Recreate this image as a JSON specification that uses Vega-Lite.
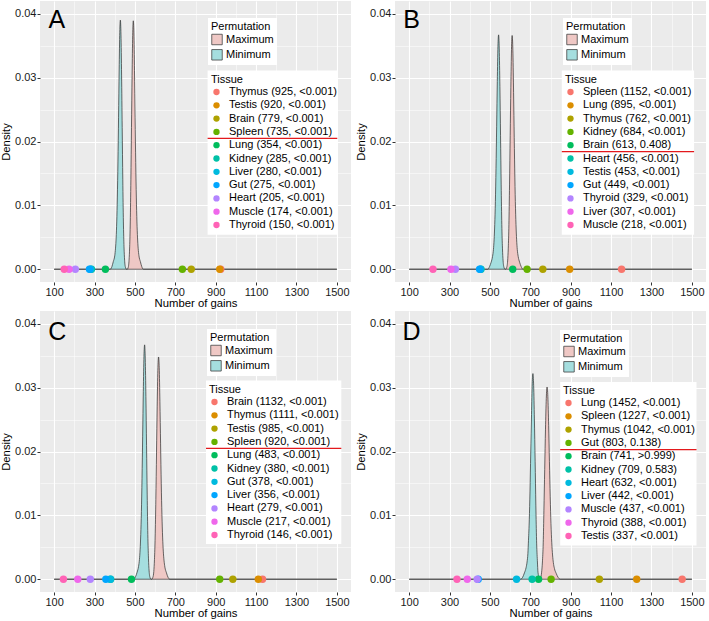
{
"$schema": "https://vega.github.io/schema/vega-lite/v6.json",
"padding": {"left": 0, "top": 1, "right": 0, "bottom": 0},
"background": "white",
"datasets": {
"dens": [
{"p":"A","m":"Minimum","x":100,"y":0},{"p":"A","m":"Minimum","x":378,"y":0},{"p":"A","m":"Minimum","x":386,"y":0.0004},{"p":"A","m":"Minimum","x":393,"y":0.0012},{"p":"A","m":"Minimum","x":400,"y":0.0021},{"p":"A","m":"Minimum","x":404,"y":0.0033},{"p":"A","m":"Minimum","x":407,"y":0.0049},{"p":"A","m":"Minimum","x":410,"y":0.0074},{"p":"A","m":"Minimum","x":413,"y":0.0113},{"p":"A","m":"Minimum","x":416,"y":0.0168},{"p":"A","m":"Minimum","x":419,"y":0.0238},{"p":"A","m":"Minimum","x":422,"y":0.0312},{"p":"A","m":"Minimum","x":425,"y":0.0371},{"p":"A","m":"Minimum","x":428,"y":0.039},{"p":"A","m":"Minimum","x":431,"y":0.0367},{"p":"A","m":"Minimum","x":434,"y":0.0304},{"p":"A","m":"Minimum","x":437,"y":0.0222},{"p":"A","m":"Minimum","x":440,"y":0.014},{"p":"A","m":"Minimum","x":443,"y":0.0074},{"p":"A","m":"Minimum","x":446,"y":0.0035},{"p":"A","m":"Minimum","x":449,"y":0.0014},{"p":"A","m":"Minimum","x":453,"y":0.0003},{"p":"A","m":"Minimum","x":458,"y":0},{"p":"A","m":"Minimum","x":1500,"y":0},
{"p":"A","m":"Maximum","x":100,"y":0},{"p":"A","m":"Maximum","x":462,"y":0},{"p":"A","m":"Maximum","x":467,"y":0.0003},{"p":"A","m":"Maximum","x":471,"y":0.0014},{"p":"A","m":"Maximum","x":474,"y":0.0035},{"p":"A","m":"Maximum","x":477,"y":0.0074},{"p":"A","m":"Maximum","x":480,"y":0.014},{"p":"A","m":"Maximum","x":483,"y":0.0222},{"p":"A","m":"Maximum","x":486,"y":0.0303},{"p":"A","m":"Maximum","x":489,"y":0.0366},{"p":"A","m":"Maximum","x":492,"y":0.0389},{"p":"A","m":"Maximum","x":495,"y":0.037},{"p":"A","m":"Maximum","x":498,"y":0.0311},{"p":"A","m":"Maximum","x":501,"y":0.0237},{"p":"A","m":"Maximum","x":504,"y":0.0167},{"p":"A","m":"Maximum","x":507,"y":0.0113},{"p":"A","m":"Maximum","x":510,"y":0.0074},{"p":"A","m":"Maximum","x":513,"y":0.0049},{"p":"A","m":"Maximum","x":516,"y":0.0033},{"p":"A","m":"Maximum","x":520,"y":0.0021},{"p":"A","m":"Maximum","x":527,"y":0.0012},{"p":"A","m":"Maximum","x":534,"y":0.0004},{"p":"A","m":"Maximum","x":542,"y":0},{"p":"A","m":"Maximum","x":1500,"y":0},
{"p":"B","m":"Minimum","x":100,"y":0},{"p":"B","m":"Minimum","x":490,"y":0},{"p":"B","m":"Minimum","x":498,"y":0.0004},{"p":"B","m":"Minimum","x":506,"y":0.0011},{"p":"B","m":"Minimum","x":513,"y":0.002},{"p":"B","m":"Minimum","x":517.5,"y":0.0031},{"p":"B","m":"Minimum","x":520.7,"y":0.0046},{"p":"B","m":"Minimum","x":523.9,"y":0.007},{"p":"B","m":"Minimum","x":527.1,"y":0.0106},{"p":"B","m":"Minimum","x":530.2,"y":0.0158},{"p":"B","m":"Minimum","x":533.4,"y":0.0224},{"p":"B","m":"Minimum","x":536.6,"y":0.0294},{"p":"B","m":"Minimum","x":539.8,"y":0.0349},{"p":"B","m":"Minimum","x":543,"y":0.0367},{"p":"B","m":"Minimum","x":546.2,"y":0.0345},{"p":"B","m":"Minimum","x":549.4,"y":0.0286},{"p":"B","m":"Minimum","x":552.6,"y":0.0209},{"p":"B","m":"Minimum","x":555.8,"y":0.0132},{"p":"B","m":"Minimum","x":558.9,"y":0.007},{"p":"B","m":"Minimum","x":562.1,"y":0.0033},{"p":"B","m":"Minimum","x":565.3,"y":0.0013},{"p":"B","m":"Minimum","x":569.6,"y":0.0003},{"p":"B","m":"Minimum","x":575,"y":0},{"p":"B","m":"Minimum","x":1500,"y":0},
{"p":"B","m":"Maximum","x":100,"y":0},{"p":"B","m":"Maximum","x":578,"y":0},{"p":"B","m":"Maximum","x":583.4,"y":0.0003},{"p":"B","m":"Maximum","x":587.7,"y":0.0013},{"p":"B","m":"Maximum","x":590.9,"y":0.0033},{"p":"B","m":"Maximum","x":594.1,"y":0.007},{"p":"B","m":"Maximum","x":597.2,"y":0.0132},{"p":"B","m":"Maximum","x":600.4,"y":0.0209},{"p":"B","m":"Maximum","x":603.6,"y":0.0285},{"p":"B","m":"Maximum","x":606.8,"y":0.0344},{"p":"B","m":"Maximum","x":610,"y":0.0366},{"p":"B","m":"Maximum","x":613.2,"y":0.0348},{"p":"B","m":"Maximum","x":616.4,"y":0.0293},{"p":"B","m":"Maximum","x":619.6,"y":0.0223},{"p":"B","m":"Maximum","x":622.8,"y":0.0157},{"p":"B","m":"Maximum","x":625.9,"y":0.0106},{"p":"B","m":"Maximum","x":629.1,"y":0.007},{"p":"B","m":"Maximum","x":632.3,"y":0.0046},{"p":"B","m":"Maximum","x":635.5,"y":0.0031},{"p":"B","m":"Maximum","x":640,"y":0.002},{"p":"B","m":"Maximum","x":647,"y":0.0011},{"p":"B","m":"Maximum","x":655,"y":0.0004},{"p":"B","m":"Maximum","x":663,"y":0},{"p":"B","m":"Maximum","x":1500,"y":0},
{"p":"C","m":"Minimum","x":100,"y":0},{"p":"C","m":"Minimum","x":495,"y":0},{"p":"C","m":"Minimum","x":503,"y":0.0004},{"p":"C","m":"Minimum","x":511,"y":0.0011},{"p":"C","m":"Minimum","x":518,"y":0.002},{"p":"C","m":"Minimum","x":522.5,"y":0.0031},{"p":"C","m":"Minimum","x":525.7,"y":0.0046},{"p":"C","m":"Minimum","x":528.9,"y":0.007},{"p":"C","m":"Minimum","x":532.1,"y":0.0106},{"p":"C","m":"Minimum","x":535.2,"y":0.0158},{"p":"C","m":"Minimum","x":538.4,"y":0.0224},{"p":"C","m":"Minimum","x":541.6,"y":0.0294},{"p":"C","m":"Minimum","x":544.8,"y":0.0349},{"p":"C","m":"Minimum","x":548,"y":0.0367},{"p":"C","m":"Minimum","x":551.2,"y":0.0345},{"p":"C","m":"Minimum","x":554.4,"y":0.0286},{"p":"C","m":"Minimum","x":557.6,"y":0.0209},{"p":"C","m":"Minimum","x":560.8,"y":0.0132},{"p":"C","m":"Minimum","x":563.9,"y":0.007},{"p":"C","m":"Minimum","x":567.1,"y":0.0033},{"p":"C","m":"Minimum","x":570.3,"y":0.0013},{"p":"C","m":"Minimum","x":574.6,"y":0.0003},{"p":"C","m":"Minimum","x":580,"y":0},{"p":"C","m":"Minimum","x":1500,"y":0},
{"p":"C","m":"Maximum","x":100,"y":0},{"p":"C","m":"Maximum","x":583.4,"y":0},{"p":"C","m":"Maximum","x":589,"y":0.0003},{"p":"C","m":"Maximum","x":593.5,"y":0.0012},{"p":"C","m":"Maximum","x":596.8,"y":0.0031},{"p":"C","m":"Maximum","x":600.2,"y":0.0066},{"p":"C","m":"Maximum","x":603.6,"y":0.0125},{"p":"C","m":"Maximum","x":606.9,"y":0.0198},{"p":"C","m":"Maximum","x":610.3,"y":0.0271},{"p":"C","m":"Maximum","x":613.6,"y":0.0327},{"p":"C","m":"Maximum","x":617,"y":0.0348},{"p":"C","m":"Maximum","x":620.4,"y":0.0331},{"p":"C","m":"Maximum","x":623.7,"y":0.0278},{"p":"C","m":"Maximum","x":627.1,"y":0.0212},{"p":"C","m":"Maximum","x":630.4,"y":0.015},{"p":"C","m":"Maximum","x":633.8,"y":0.0101},{"p":"C","m":"Maximum","x":637.2,"y":0.0066},{"p":"C","m":"Maximum","x":640.5,"y":0.0044},{"p":"C","m":"Maximum","x":643.9,"y":0.003},{"p":"C","m":"Maximum","x":648.4,"y":0.0019},{"p":"C","m":"Maximum","x":656.2,"y":0.001},{"p":"C","m":"Maximum","x":664,"y":0.0003},{"p":"C","m":"Maximum","x":673,"y":0},{"p":"C","m":"Maximum","x":1500,"y":0},
{"p":"D","m":"Minimum","x":100,"y":0},{"p":"D","m":"Minimum","x":652,"y":0},{"p":"D","m":"Minimum","x":662,"y":0.0003},{"p":"D","m":"Minimum","x":671,"y":0.001},{"p":"D","m":"Minimum","x":679,"y":0.0018},{"p":"D","m":"Minimum","x":684,"y":0.0027},{"p":"D","m":"Minimum","x":688,"y":0.004},{"p":"D","m":"Minimum","x":691,"y":0.0061},{"p":"D","m":"Minimum","x":695,"y":0.0093},{"p":"D","m":"Minimum","x":698.5,"y":0.0138},{"p":"D","m":"Minimum","x":702,"y":0.0196},{"p":"D","m":"Minimum","x":706,"y":0.0258},{"p":"D","m":"Minimum","x":709.4,"y":0.0306},{"p":"D","m":"Minimum","x":713,"y":0.0322},{"p":"D","m":"Minimum","x":716.6,"y":0.0303},{"p":"D","m":"Minimum","x":720.3,"y":0.0251},{"p":"D","m":"Minimum","x":724,"y":0.0184},{"p":"D","m":"Minimum","x":727.5,"y":0.0116},{"p":"D","m":"Minimum","x":731,"y":0.0061},{"p":"D","m":"Minimum","x":735,"y":0.0029},{"p":"D","m":"Minimum","x":738,"y":0.0011},{"p":"D","m":"Minimum","x":743,"y":0.0003},{"p":"D","m":"Minimum","x":749,"y":0},{"p":"D","m":"Minimum","x":1500,"y":0},
{"p":"D","m":"Maximum","x":100,"y":0},{"p":"D","m":"Maximum","x":745,"y":0},{"p":"D","m":"Maximum","x":751,"y":0.0002},{"p":"D","m":"Maximum","x":756,"y":0.0011},{"p":"D","m":"Maximum","x":760,"y":0.0027},{"p":"D","m":"Maximum","x":764,"y":0.0057},{"p":"D","m":"Maximum","x":767.4,"y":0.0108},{"p":"D","m":"Maximum","x":771.3,"y":0.0172},{"p":"D","m":"Maximum","x":775.2,"y":0.0235},{"p":"D","m":"Maximum","x":779.1,"y":0.0283},{"p":"D","m":"Maximum","x":783,"y":0.0301},{"p":"D","m":"Maximum","x":786.9,"y":0.0286},{"p":"D","m":"Maximum","x":790.8,"y":0.0241},{"p":"D","m":"Maximum","x":794.7,"y":0.0184},{"p":"D","m":"Maximum","x":798.6,"y":0.0129},{"p":"D","m":"Maximum","x":802.4,"y":0.0087},{"p":"D","m":"Maximum","x":806.3,"y":0.0057},{"p":"D","m":"Maximum","x":810.2,"y":0.0038},{"p":"D","m":"Maximum","x":814.1,"y":0.0026},{"p":"D","m":"Maximum","x":819.3,"y":0.0017},{"p":"D","m":"Maximum","x":828.4,"y":0.0009},{"p":"D","m":"Maximum","x":837.4,"y":0.0003},{"p":"D","m":"Maximum","x":848,"y":0},{"p":"D","m":"Maximum","x":1500,"y":0}
],
"tis": [
{"p":"A","t":"Thymus (925, <0.001)","g":925},{"p":"A","t":"Testis (920, <0.001)","g":920},{"p":"A","t":"Brain (779, <0.001)","g":779},{"p":"A","t":"Spleen (735, <0.001)","g":735},{"p":"A","t":"Lung (354, <0.001)","g":354},{"p":"A","t":"Kidney (285, <0.001)","g":285},{"p":"A","t":"Liver (280, <0.001)","g":280},{"p":"A","t":"Gut (275, <0.001)","g":275},{"p":"A","t":"Heart (205, <0.001)","g":205},{"p":"A","t":"Muscle (174, <0.001)","g":174},{"p":"A","t":"Thyroid (150, <0.001)","g":150},
{"p":"B","t":"Spleen (1152, <0.001)","g":1152},{"p":"B","t":"Lung (895, <0.001)","g":895},{"p":"B","t":"Thymus (762, <0.001)","g":762},{"p":"B","t":"Kidney (684, <0.001)","g":684},{"p":"B","t":"Brain (613, 0.408)","g":613},{"p":"B","t":"Heart (456, <0.001)","g":456},{"p":"B","t":"Testis (453, <0.001)","g":453},{"p":"B","t":"Gut (449, <0.001)","g":449},{"p":"B","t":"Thyroid (329, <0.001)","g":329},{"p":"B","t":"Liver (307, <0.001)","g":307},{"p":"B","t":"Muscle (218, <0.001)","g":218},
{"p":"C","t":"Brain (1132, <0.001)","g":1132},{"p":"C","t":"Thymus (1111, <0.001)","g":1111},{"p":"C","t":"Testis (985, <0.001)","g":985},{"p":"C","t":"Spleen (920, <0.001)","g":920},{"p":"C","t":"Lung (483, <0.001)","g":483},{"p":"C","t":"Kidney (380, <0.001)","g":380},{"p":"C","t":"Gut (378, <0.001)","g":378},{"p":"C","t":"Liver (356, <0.001)","g":356},{"p":"C","t":"Heart (279, <0.001)","g":279},{"p":"C","t":"Muscle (217, <0.001)","g":217},{"p":"C","t":"Thyroid (146, <0.001)","g":146},
{"p":"D","t":"Lung (1452, <0.001)","g":1452},{"p":"D","t":"Spleen (1227, <0.001)","g":1227},{"p":"D","t":"Thymus (1042, <0.001)","g":1042},{"p":"D","t":"Gut (803, 0.138)","g":803},{"p":"D","t":"Brain (741, >0.999)","g":741},{"p":"D","t":"Kidney (709, 0.583)","g":709},{"p":"D","t":"Heart (632, <0.001)","g":632},{"p":"D","t":"Liver (442, <0.001)","g":442},{"p":"D","t":"Muscle (437, <0.001)","g":437},{"p":"D","t":"Thyroid (388, <0.001)","g":388},{"p":"D","t":"Testis (337, <0.001)","g":337}
],
"lab": [{"p":"A"},{"p":"B"},{"p":"C"},{"p":"D"}]
},
"concat": [
{
"width": 311, "height": 281,
"layer": [
{"data": {"name": "dens"}, "transform": [{"filter": "datum.p === 'A'"}],
 "mark": {"type": "area", "interpolate": "monotone"},
 "encoding": {
  "x": {"field": "x", "type": "quantitative", "scale": {"domain": [30, 1570], "nice": false, "zero": false}, "axis": {"values": [100,300,500,700,900,1100,1300,1500], "format": "d", "title": "Number of gains"}},
  "y": {"field": "y", "type": "quantitative", "scale": {"domain": [-0.002, 0.042], "nice": false, "zero": false}, "axis": {"values": [0,0.01,0.02,0.03,0.04], "format": ".2f", "title": "Density"}},
  "fill": {"field": "m", "type": "nominal", "scale": {"domain": ["Maximum","Minimum"], "range": ["#EFC8C5","#A5DEDF"]}, "legend": {"title": "Permutation", "orient": "none", "legendX": 168, "legendY": 17, "symbolType": "square", "symbolSize": 110, "symbolStrokeColor": "#444", "symbolStrokeWidth": 0.8, "labelOffset": 3, "fillColor": "white"}}
 }},
{"data": {"name": "dens"}, "transform": [{"filter": "datum.p === 'A'"}],
 "mark": {"type": "line", "interpolate": "monotone", "color": "#2b2b2b", "strokeWidth": 0.7},
 "encoding": {
  "x": {"field": "x", "type": "quantitative", "axis": {"values": [200,400,600,800,1000,1200,1400], "grid": true, "gridWidth": 0.5, "labels": false, "ticks": false, "domain": false, "title": null}},
  "y": {"field": "y", "type": "quantitative", "axis": {"values": [0.005,0.015,0.025,0.035], "grid": true, "gridWidth": 0.5, "labels": false, "ticks": false, "domain": false, "title": null}},
  "detail": {"field": "m"}
 }},
{"data": {"name": "tis"}, "transform": [{"filter": "datum.p === 'A'"}],
 "mark": {"type": "circle", "size": 55, "opacity": 1},
 "encoding": {
  "x": {"field": "g", "type": "quantitative", "axis": null},
  "y": {"datum": 0, "type": "quantitative", "axis": null},
  "color": {"field": "t", "type": "nominal", "scale": {"domain": ["Thymus (925, <0.001)","Testis (920, <0.001)","Brain (779, <0.001)","Spleen (735, <0.001)","Lung (354, <0.001)","Kidney (285, <0.001)","Liver (280, <0.001)","Gut (275, <0.001)","Heart (205, <0.001)","Muscle (174, <0.001)","Thyroid (150, <0.001)"], "range": ["#F8766D","#DB8E00","#AEA200","#64B200","#00BD5C","#00C1A7","#00BADE","#00A6FF","#B385FF","#EF67EB","#FF63B6"]},
   "legend": {"title": "Tissue", "orient": "none", "legendX": 168, "legendY": 70, "symbolType": "circle", "symbolSize": 40, "labelOffset": 7}}
 }},
{"data": {"name": "lab"}, "transform": [{"filter": "datum.p === 'A'"}],
 "mark": {"type": "text", "fontSize": 25, "align": "center", "baseline": "alphabetic", "color": "black"},
 "encoding": {
  "x": {"datum": 114, "type": "quantitative", "axis": null},
  "y": {"datum": 0.0378, "type": "quantitative", "axis": null},
  "text": {"field": "p"}
 }},
{"data": {"name": "lab"}, "transform": [{"filter": "datum.p === 'A'"}],
 "mark": {"type": "rect", "color": "white"},
 "encoding": {
  "x": {"datum": 860, "type": "quantitative", "axis": null}, "x2": {"datum": 1502},
  "y": {"datum": 0.0311, "type": "quantitative", "axis": null}, "y2": {"datum": 0.0054}
 }},
{"data": {"name": "lab"}, "transform": [{"filter": "datum.p === 'A'"}],
 "mark": {"type": "rule", "color": "#E3191C", "strokeWidth": 1.3},
 "encoding": {
  "x": {"datum": 860, "type": "quantitative", "axis": null}, "x2": {"datum": 1502},
  "y": {"datum": 0.0205, "type": "quantitative", "axis": null}
 }}
],
"resolve": {"axis": {"x": "independent", "y": "independent"}}
},
{
"width": 311, "height": 281,
"layer": [
{"data": {"name": "dens"}, "transform": [{"filter": "datum.p === 'B'"}],
 "mark": {"type": "area", "interpolate": "monotone"},
 "encoding": {
  "x": {"field": "x", "type": "quantitative", "scale": {"domain": [30, 1570], "nice": false, "zero": false}, "axis": {"values": [100,300,500,700,900,1100,1300,1500], "format": "d", "title": "Number of gains"}},
  "y": {"field": "y", "type": "quantitative", "scale": {"domain": [-0.002, 0.042], "nice": false, "zero": false}, "axis": {"values": [0,0.01,0.02,0.03,0.04], "format": ".2f", "title": "Density"}},
  "fill": {"field": "m", "type": "nominal", "scale": {"domain": ["Maximum","Minimum"], "range": ["#EFC8C5","#A5DEDF"]}, "legend": {"title": "Permutation", "orient": "none", "legendX": 168, "legendY": 17, "symbolType": "square", "symbolSize": 110, "symbolStrokeColor": "#444", "symbolStrokeWidth": 0.8, "labelOffset": 3, "fillColor": "white"}}
 }},
{"data": {"name": "dens"}, "transform": [{"filter": "datum.p === 'B'"}],
 "mark": {"type": "line", "interpolate": "monotone", "color": "#2b2b2b", "strokeWidth": 0.7},
 "encoding": {
  "x": {"field": "x", "type": "quantitative", "axis": {"values": [200,400,600,800,1000,1200,1400], "grid": true, "gridWidth": 0.5, "labels": false, "ticks": false, "domain": false, "title": null}},
  "y": {"field": "y", "type": "quantitative", "axis": {"values": [0.005,0.015,0.025,0.035], "grid": true, "gridWidth": 0.5, "labels": false, "ticks": false, "domain": false, "title": null}},
  "detail": {"field": "m"}
 }},
{"data": {"name": "tis"}, "transform": [{"filter": "datum.p === 'B'"}],
 "mark": {"type": "circle", "size": 55, "opacity": 1},
 "encoding": {
  "x": {"field": "g", "type": "quantitative", "axis": null},
  "y": {"datum": 0, "type": "quantitative", "axis": null},
  "color": {"field": "t", "type": "nominal", "scale": {"domain": ["Spleen (1152, <0.001)","Lung (895, <0.001)","Thymus (762, <0.001)","Kidney (684, <0.001)","Brain (613, 0.408)","Heart (456, <0.001)","Testis (453, <0.001)","Gut (449, <0.001)","Thyroid (329, <0.001)","Liver (307, <0.001)","Muscle (218, <0.001)"], "range": ["#F8766D","#DB8E00","#AEA200","#64B200","#00BD5C","#00C1A7","#00BADE","#00A6FF","#B385FF","#EF67EB","#FF63B6"]},
   "legend": {"title": "Tissue", "orient": "none", "legendX": 167, "legendY": 70, "symbolType": "circle", "symbolSize": 40, "labelOffset": 7}}
 }},
{"data": {"name": "lab"}, "transform": [{"filter": "datum.p === 'B'"}],
 "mark": {"type": "text", "fontSize": 25, "align": "center", "baseline": "alphabetic", "color": "black"},
 "encoding": {
  "x": {"datum": 112, "type": "quantitative", "axis": null},
  "y": {"datum": 0.0378, "type": "quantitative", "axis": null},
  "text": {"field": "p"}
 }},
{"data": {"name": "lab"}, "transform": [{"filter": "datum.p === 'B'"}],
 "mark": {"type": "rect", "color": "white"},
 "encoding": {
  "x": {"datum": 856, "type": "quantitative", "axis": null}, "x2": {"datum": 1511},
  "y": {"datum": 0.0311, "type": "quantitative", "axis": null}, "y2": {"datum": 0.0054}
 }},
{"data": {"name": "lab"}, "transform": [{"filter": "datum.p === 'B'"}],
 "mark": {"type": "rule", "color": "#E3191C", "strokeWidth": 1.3},
 "encoding": {
  "x": {"datum": 856, "type": "quantitative", "axis": null}, "x2": {"datum": 1511},
  "y": {"datum": 0.0184, "type": "quantitative", "axis": null}
 }}
],
"resolve": {"axis": {"x": "independent", "y": "independent"}}
},
{
"width": 311, "height": 281,
"layer": [
{"data": {"name": "dens"}, "transform": [{"filter": "datum.p === 'C'"}],
 "mark": {"type": "area", "interpolate": "monotone"},
 "encoding": {
  "x": {"field": "x", "type": "quantitative", "scale": {"domain": [30, 1570], "nice": false, "zero": false}, "axis": {"values": [100,300,500,700,900,1100,1300,1500], "format": "d", "title": "Number of gains"}},
  "y": {"field": "y", "type": "quantitative", "scale": {"domain": [-0.002, 0.042], "nice": false, "zero": false}, "axis": {"values": [0,0.01,0.02,0.03,0.04], "format": ".2f", "title": "Density"}},
  "fill": {"field": "m", "type": "nominal", "scale": {"domain": ["Maximum","Minimum"], "range": ["#EFC8C5","#A5DEDF"]}, "legend": {"title": "Permutation", "orient": "none", "legendX": 167, "legendY": 18, "symbolType": "square", "symbolSize": 110, "symbolStrokeColor": "#444", "symbolStrokeWidth": 0.8, "labelOffset": 3, "fillColor": "white"}}
 }},
{"data": {"name": "dens"}, "transform": [{"filter": "datum.p === 'C'"}],
 "mark": {"type": "line", "interpolate": "monotone", "color": "#2b2b2b", "strokeWidth": 0.7},
 "encoding": {
  "x": {"field": "x", "type": "quantitative", "axis": {"values": [200,400,600,800,1000,1200,1400], "grid": true, "gridWidth": 0.5, "labels": false, "ticks": false, "domain": false, "title": null}},
  "y": {"field": "y", "type": "quantitative", "axis": {"values": [0.005,0.015,0.025,0.035], "grid": true, "gridWidth": 0.5, "labels": false, "ticks": false, "domain": false, "title": null}},
  "detail": {"field": "m"}
 }},
{"data": {"name": "tis"}, "transform": [{"filter": "datum.p === 'C'"}],
 "mark": {"type": "circle", "size": 55, "opacity": 1},
 "encoding": {
  "x": {"field": "g", "type": "quantitative", "axis": null},
  "y": {"datum": 0, "type": "quantitative", "axis": null},
  "color": {"field": "t", "type": "nominal", "scale": {"domain": ["Brain (1132, <0.001)","Thymus (1111, <0.001)","Testis (985, <0.001)","Spleen (920, <0.001)","Lung (483, <0.001)","Kidney (380, <0.001)","Gut (378, <0.001)","Liver (356, <0.001)","Heart (279, <0.001)","Muscle (217, <0.001)","Thyroid (146, <0.001)"], "range": ["#F8766D","#DB8E00","#AEA200","#64B200","#00BD5C","#00C1A7","#00BADE","#00A6FF","#B385FF","#EF67EB","#FF63B6"]},
   "legend": {"title": "Tissue", "orient": "none", "legendX": 166, "legendY": 70, "symbolType": "circle", "symbolSize": 40, "labelOffset": 7}}
 }},
{"data": {"name": "lab"}, "transform": [{"filter": "datum.p === 'C'"}],
 "mark": {"type": "text", "fontSize": 25, "align": "center", "baseline": "alphabetic", "color": "black"},
 "encoding": {
  "x": {"datum": 115, "type": "quantitative", "axis": null},
  "y": {"datum": 0.0375, "type": "quantitative", "axis": null},
  "text": {"field": "p"}
 }},
{"data": {"name": "lab"}, "transform": [{"filter": "datum.p === 'C'"}],
 "mark": {"type": "rect", "color": "white"},
 "encoding": {
  "x": {"datum": 852, "type": "quantitative", "axis": null}, "x2": {"datum": 1522},
  "y": {"datum": 0.0311, "type": "quantitative", "axis": null}, "y2": {"datum": 0.0055}
 }},
{"data": {"name": "lab"}, "transform": [{"filter": "datum.p === 'C'"}],
 "mark": {"type": "rule", "color": "#E3191C", "strokeWidth": 1.3},
 "encoding": {
  "x": {"datum": 852, "type": "quantitative", "axis": null}, "x2": {"datum": 1522},
  "y": {"datum": 0.0205, "type": "quantitative", "axis": null}
 }}
],
"resolve": {"axis": {"x": "independent", "y": "independent"}}
},
{
"width": 311, "height": 281,
"layer": [
{"data": {"name": "dens"}, "transform": [{"filter": "datum.p === 'D'"}],
 "mark": {"type": "area", "interpolate": "monotone"},
 "encoding": {
  "x": {"field": "x", "type": "quantitative", "scale": {"domain": [30, 1570], "nice": false, "zero": false}, "axis": {"values": [100,300,500,700,900,1100,1300,1500], "format": "d", "title": "Number of gains"}},
  "y": {"field": "y", "type": "quantitative", "scale": {"domain": [-0.002, 0.042], "nice": false, "zero": false}, "axis": {"values": [0,0.01,0.02,0.03,0.04], "format": ".2f", "title": "Density"}},
  "fill": {"field": "m", "type": "nominal", "scale": {"domain": ["Maximum","Minimum"], "range": ["#EFC8C5","#A5DEDF"]}, "legend": {"title": "Permutation", "orient": "none", "legendX": 165, "legendY": 19, "symbolType": "square", "symbolSize": 110, "symbolStrokeColor": "#444", "symbolStrokeWidth": 0.8, "labelOffset": 3, "fillColor": "white"}}
 }},
{"data": {"name": "dens"}, "transform": [{"filter": "datum.p === 'D'"}],
 "mark": {"type": "line", "interpolate": "monotone", "color": "#2b2b2b", "strokeWidth": 0.7},
 "encoding": {
  "x": {"field": "x", "type": "quantitative", "axis": {"values": [200,400,600,800,1000,1200,1400], "grid": true, "gridWidth": 0.5, "labels": false, "ticks": false, "domain": false, "title": null}},
  "y": {"field": "y", "type": "quantitative", "axis": {"values": [0.005,0.015,0.025,0.035], "grid": true, "gridWidth": 0.5, "labels": false, "ticks": false, "domain": false, "title": null}},
  "detail": {"field": "m"}
 }},
{"data": {"name": "tis"}, "transform": [{"filter": "datum.p === 'D'"}],
 "mark": {"type": "circle", "size": 55, "opacity": 1},
 "encoding": {
  "x": {"field": "g", "type": "quantitative", "axis": null},
  "y": {"datum": 0, "type": "quantitative", "axis": null},
  "color": {"field": "t", "type": "nominal", "scale": {"domain": ["Lung (1452, <0.001)","Spleen (1227, <0.001)","Thymus (1042, <0.001)","Gut (803, 0.138)","Brain (741, >0.999)","Kidney (709, 0.583)","Heart (632, <0.001)","Liver (442, <0.001)","Muscle (437, <0.001)","Thyroid (388, <0.001)","Testis (337, <0.001)"], "range": ["#F8766D","#DB8E00","#AEA200","#64B200","#00BD5C","#00C1A7","#00BADE","#00A6FF","#B385FF","#EF67EB","#FF63B6"]},
   "legend": {"title": "Tissue", "orient": "none", "legendX": 165, "legendY": 71, "symbolType": "circle", "symbolSize": 40, "labelOffset": 7}}
 }},
{"data": {"name": "lab"}, "transform": [{"filter": "datum.p === 'D'"}],
 "mark": {"type": "text", "fontSize": 25, "align": "center", "baseline": "alphabetic", "color": "black"},
 "encoding": {
  "x": {"datum": 112, "type": "quantitative", "axis": null},
  "y": {"datum": 0.0375, "type": "quantitative", "axis": null},
  "text": {"field": "p"}
 }},
{"data": {"name": "lab"}, "transform": [{"filter": "datum.p === 'D'"}],
 "mark": {"type": "rect", "color": "white"},
 "encoding": {
  "x": {"datum": 848, "type": "quantitative", "axis": null}, "x2": {"datum": 1523},
  "y": {"datum": 0.0309, "type": "quantitative", "axis": null}, "y2": {"datum": 0.0053}
 }},
{"data": {"name": "lab"}, "transform": [{"filter": "datum.p === 'D'"}],
 "mark": {"type": "rule", "color": "#E3191C", "strokeWidth": 1.3},
 "encoding": {
  "x": {"datum": 848, "type": "quantitative", "axis": null}, "x2": {"datum": 1523},
  "y": {"datum": 0.0203, "type": "quantitative", "axis": null}
 }}
],
"resolve": {"axis": {"x": "independent", "y": "independent"}}
}
],
"columns": 2,
"spacing": {"row": 2, "column": 4},
"resolve": {"scale": {"color": "independent", "fill": "independent"}, "legend": {"color": "independent", "fill": "independent"}},
"config": {
 "font": "Liberation Sans",
 "view": {"fill": "#EBEBEB", "stroke": null},
 "axis": {"domain": false, "gridColor": "white", "gridWidth": 1.1, "tickColor": "#333", "tickSize": 3, "labelFontSize": 11, "labelColor": "#1a1a1a", "titleFontSize": 11.3, "titleFontWeight": "normal", "titleColor": "black", "labelPadding": 1},
 "axisX": {"titlePadding": 0},
 "axisY": {"titlePadding": 3},
 "legend": {"titleFontSize": 11, "titleFontWeight": "normal", "titleColor": "black", "labelFontSize": 11, "labelColor": "black", "padding": 3, "rowPadding": 1.3, "titlePadding": 1.5, "labelLimit": 300}
}
}
